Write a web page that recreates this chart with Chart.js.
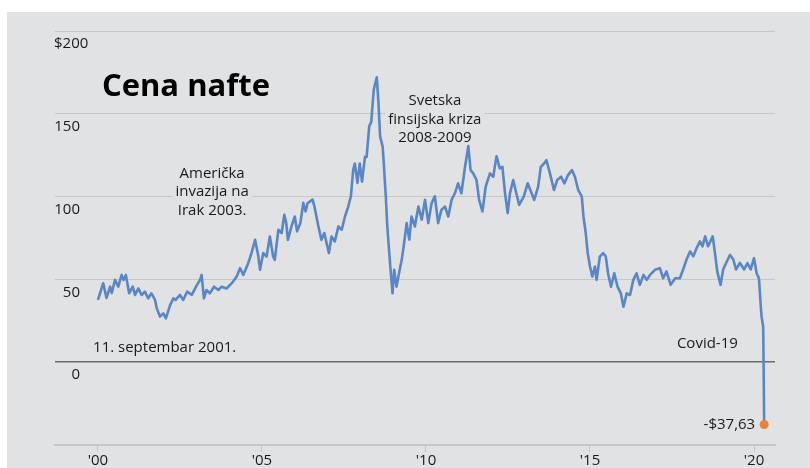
<!DOCTYPE html>
<html>
<head>
<meta charset="utf-8">
<script src="https://cdn.jsdelivr.net/npm/chart.js@4.4.1/dist/chart.umd.min.js"></script>
<style>
    html, body { margin: 0; padding: 0; background: #fff; }
    #wrap { position: absolute; left: 7px; top: 12px; width: 803px; height: 456px; background: #e1e2e4; }
    canvas { display: block; }
</style>
</head>
<body>
<div id="wrap"><canvas id="oilChart" width="803" height="456"></canvas></div>
<script>
// Data (decimal year, price in $)
const years = [
    2000.00, 2000.16, 2000.26, 2000.37, 2000.42, 2000.52, 2000.62, 2000.72, 2000.78, 2000.85, 2000.95,
    2001.06, 2001.13, 2001.23, 2001.33, 2001.43, 2001.53, 2001.63, 2001.74, 2001.79, 2001.89, 2001.99,
    2002.07, 2002.20, 2002.30, 2002.37, 2002.50, 2002.60, 2002.72, 2002.86, 2002.99,
    2003.11, 2003.16, 2003.23, 2003.31, 2003.41, 2003.54, 2003.67, 2003.77, 2003.92,
    2004.08, 2004.23, 2004.33, 2004.43, 2004.58, 2004.68, 2004.79, 2004.89, 2004.94,
    2005.04, 2005.14, 2005.24, 2005.34, 2005.39, 2005.50, 2005.60, 2005.68, 2005.74, 2005.79, 2005.90,
    2006.00, 2006.07, 2006.17, 2006.26, 2006.33, 2006.39, 2006.54, 2006.60, 2006.71, 2006.81, 2006.90, 2006.97,
    2007.04, 2007.12, 2007.22, 2007.33, 2007.43, 2007.53, 2007.63, 2007.71, 2007.78, 2007.83, 2007.91, 2007.98,
    2008.05, 2008.14, 2008.19, 2008.27, 2008.33, 2008.41, 2008.50, 2008.55, 2008.60, 2008.68, 2008.72,
    2008.78, 2008.82, 2008.88, 2008.92, 2008.98,
    2009.03, 2009.10, 2009.20, 2009.26, 2009.32, 2009.41, 2009.49, 2009.56, 2009.66, 2009.77, 2009.87, 2009.97,
    2010.07, 2010.17, 2010.27, 2010.37, 2010.47, 2010.58, 2010.68, 2010.78, 2010.88, 2010.98,
    2011.08, 2011.19, 2011.29, 2011.36, 2011.44, 2011.54, 2011.62, 2011.72, 2011.82, 2011.95,
    2012.05, 2012.15, 2012.25, 2012.33, 2012.41, 2012.49, 2012.56, 2012.66, 2012.73, 2012.84, 2012.98,
    2013.10, 2013.22, 2013.30, 2013.42, 2013.50, 2013.60, 2013.67, 2013.78, 2013.90,
    2014.00, 2014.12, 2014.22, 2014.33, 2014.45, 2014.54, 2014.64, 2014.75, 2014.80, 2014.87, 2014.93,
    2015.00, 2015.07, 2015.15, 2015.20, 2015.30, 2015.40, 2015.48, 2015.55, 2015.64, 2015.74, 2015.84, 2015.94,
    2016.02, 2016.12, 2016.22, 2016.32, 2016.42, 2016.52, 2016.63, 2016.73, 2016.83, 2016.98,
    2017.13, 2017.23, 2017.33, 2017.46, 2017.60, 2017.74, 2017.84, 2017.94,
    2018.05, 2018.15, 2018.25, 2018.35, 2018.43, 2018.51, 2018.60, 2018.74, 2018.81, 2018.88, 2018.98,
    2019.06, 2019.17, 2019.27, 2019.37, 2019.45, 2019.57, 2019.70, 2019.80, 2019.90,
    2020.00, 2020.08, 2020.15, 2020.20, 2020.23, 2020.28, 2020.31
];
const prices = [
    37.6, 47.7, 38.8, 45.6, 41.8, 49.7, 45.6, 52.7, 49.7, 52.7, 41.6,
    45.6, 40.6, 44.6, 40.6, 42.6, 38.6, 41.6, 37.6, 32.7, 27.5, 29.5,
    26.5, 34.5, 38.6, 37.6, 40.6, 37.6, 42.6, 40.6, 45.6,
    49.7, 52.7, 38.6, 43.6, 41.6, 45.6, 43.6, 45.6, 44.5,
    47.7, 51.7, 56.8, 52.7, 59.8, 65.9, 73.9, 63.8, 55.8,
    65.9, 63.8, 75.9, 63.8, 61.8, 80.0, 78.0, 89.0, 84.0, 73.9, 82.0,
    88.0, 79.0, 84.0, 96.2, 91.0, 96.0, 98.2, 94.0, 83.0, 73.9, 78.0, 71.9,
    65.9, 75.9, 72.9, 82.0, 80.0, 88.0, 94.0, 100.2, 116.0, 120.0, 108.3, 120.0,
    109.0, 124.0, 124.0, 142.6, 145.0, 165.0, 172.0, 157.0, 136.5, 130.0, 118.0,
    98.0, 82.0, 66.0, 55.8, 41.6,
    55.8, 45.6, 56.0, 61.8, 70.0, 84.0, 74.0, 88.0, 82.0, 94.0, 86.0, 98.0,
    84.0, 96.0, 100.2, 84.0, 92.0, 94.0, 88.0, 98.0, 102.0, 108.0,
    102.0, 118.0, 130.5, 116.0, 114.0, 110.0, 98.0, 91.0, 106.0, 114.0,
    112.0, 124.4, 117.0, 118.0, 102.0, 90.0, 102.0, 110.0, 104.0, 95.0, 100.0,
    108.0, 102.0, 98.0, 106.0, 118.0, 120.0, 122.0, 114.0, 104.0,
    110.0, 112.0, 108.0, 113.0, 116.0, 112.0, 104.0, 100.0, 88.0, 78.0, 66.0,
    57.8, 51.7, 57.8, 49.7, 63.8, 65.9, 64.0, 53.7, 45.6, 53.7, 45.6, 41.6,
    33.5, 41.6, 40.6, 49.7, 53.7, 46.7, 52.7, 49.7, 52.7, 55.8,
    56.8, 50.7, 54.8, 46.7, 50.7, 50.7, 56.0, 61.8,
    66.9, 64.0, 68.9, 72.9, 70.0, 76.0, 70.0, 76.0, 65.9, 54.7, 46.7,
    56.0, 60.8, 64.8, 62.0, 56.0, 60.0, 56.0, 59.8, 56.0,
    62.8, 53.7, 50.7, 35.6, 27.5, 21.4, -37.63
];

// Lowest point (April 2020)
const lowYear = 2020.31;
const lowPrice = -37.63;
const lowLabel = '-$37,63';

// Axes
const xTickYears = [2000, 2005, 2010, 2015, 2020];
const xTickLabels = ["'00", "'05", "'10", "'15", "'20"];
const yTickValues = [-50, 0, 50, 100, 150, 200];
const yTickLabels = ['', '0', '50', '100', '150', '$200'];

// Notes: anchor (year, price) and lines
const notes = [
    { x: 2000.12, y: 166, lines: ['Cena nafte'], bold: true, align: 'left' },
    { x: 2003.48, y: 114, lines: ['Američka', 'invazija na', 'Irak 2003.'], align: 'center' },
    { x: 2010.27, y: 158, lines: ['Svetska', 'finsijska kriza', '2008-2009'], align: 'center' },
    { x: 1999.85, y: 9, lines: ['11. septembar 2001.'], align: 'left' },
    { x: 2017.65, y: 11, lines: ['Covid-19'], align: 'left' }
];

const BG = '#e1e2e4';
const TEXT = '#1a1a1a';
const FONT = "'Open Sans', sans-serif";

const notesPlugin = {
    id: 'notes',
    beforeDatasetsDraw(chart) {
        const c = chart.ctx;
        const xs = chart.scales.x, ys = chart.scales.y;
        c.save();
        // y labels sit just under their gridline
        c.font = '15px ' + FONT;
        c.fillStyle = TEXT;
        c.textBaseline = 'middle';
        yTickValues.forEach((v, i) => {
            const lbl = yTickLabels[i];
            if (!lbl) return;
            const py = ys.getPixelForValue(v) + 13;
            if (lbl.startsWith('$')) {
                c.textAlign = 'left';
                c.fillText(lbl, chart.chartArea.left - 1, py);
            } else {
                c.textAlign = 'right';
                c.fillText(lbl, chart.chartArea.left + 25, py);
            }
        });
        // text notes, with a background knockout over the gridlines
        notes.forEach(n => {
            c.font = (n.bold ? 'bold 31px ' : '15px ') + FONT;
            c.textAlign = n.align;
            const px = xs.getPixelForValue(n.x);
            let py = ys.getPixelForValue(n.y);
            n.lines.forEach(line => {
                const w = c.measureText(line).width;
                const left = n.align === 'center' ? px - w / 2 : px;
                c.fillStyle = BG;
                c.fillRect(left - 3, py - 8, w + 6, 16);
                c.fillStyle = n.bold ? '#000' : TEXT;
                c.fillText(line, px, py);
                py += 18.7;
            });
        });
        c.restore();
    },
    afterDatasetsDraw(chart) {
        const c = chart.ctx;
        const px = chart.scales.x.getPixelForValue(lowYear);
        const py = chart.scales.y.getPixelForValue(lowPrice);
        c.save();
        c.font = '15px ' + FONT;
        c.fillStyle = TEXT;
        c.textAlign = 'right';
        c.textBaseline = 'middle';
        c.fillText(lowLabel, px - 9, py);
        c.restore();
    }
};

const ctx = document.getElementById('oilChart').getContext('2d');
const chart = new Chart(ctx, {
    type: 'line',
    data: {
        datasets: [
            {
                data: years.map((y, i) => ({ x: y, y: prices[i] })),
                borderColor: '#5a86c8',
                borderWidth: 2.6,
                borderJoinStyle: 'round',
                pointRadius: 0,
                tension: 0,
                order: 2
            },
            {
                data: [{ x: lowYear, y: lowPrice }],
                pointBackgroundColor: '#e8833a',
                pointBorderWidth: 0,
                pointRadius: 4.5,
                showLine: false,
                order: 1
            }
        ]
    },
    options: {
        responsive: false,
        animation: false,
        layout: { padding: { left: 48, right: 35, top: 19, bottom: 0 } },
        plugins: {
            legend: { display: false },
            tooltip: { enabled: false }
        },
        scales: {
            x: {
                type: 'linear',
                min: 1998.69,
                max: 2020.64,
                afterBuildTicks: axis => { axis.ticks = xTickYears.map(v => ({ value: v })); },
                afterFit: axis => { axis.height = 23; },
                grid: {
                    drawOnChartArea: false,
                    drawTicks: true,
                    tickLength: 7,
                    color: '#c4c5c7'
                },
                border: { display: true, color: '#c6c7c9', width: 2 },
                ticks: {
                    padding: 0,
                    color: TEXT,
                    font: { size: 15, family: FONT },
                    maxRotation: 0,
                    callback: v => xTickLabels[xTickYears.indexOf(v)]
                }
            },
            y: {
                type: 'linear',
                min: -50,
                max: 200,
                afterBuildTicks: axis => { axis.ticks = yTickValues.map(v => ({ value: v })); },
                afterFit: axis => { axis.width = 0; },
                grid: {
                    drawTicks: false,
                    color: c => c.tick.value === 0 ? '#6b6b6b' : '#c6c7c9',
                    lineWidth: c => c.tick.value === 0 ? 1.5 : 1
                },
                border: { display: false },
                ticks: { display: false }
            }
        }
    },
    plugins: [notesPlugin]
});
</script>
</body>
</html>
